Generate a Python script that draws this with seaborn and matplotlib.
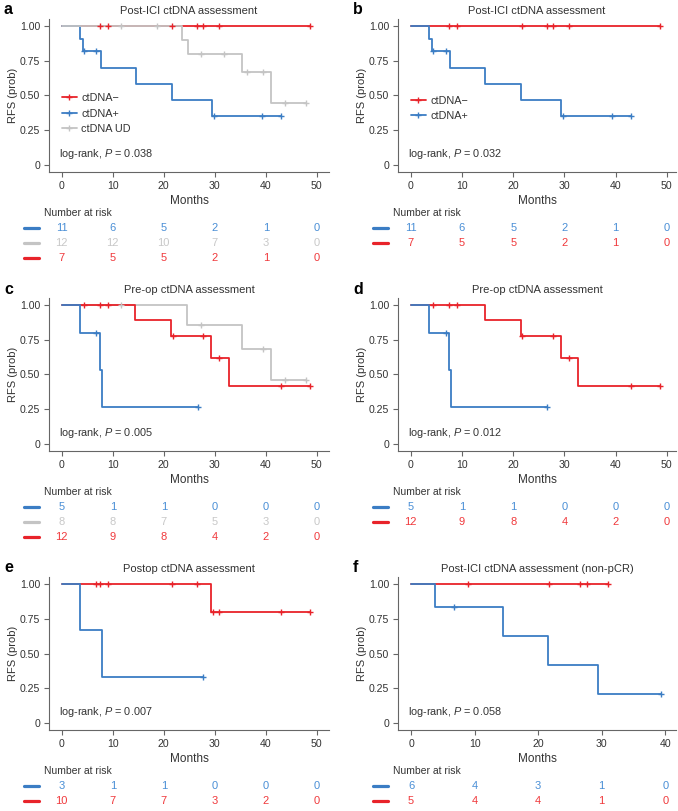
import numpy as np
import pandas as pd
import matplotlib
matplotlib.use("Agg")
import matplotlib.pyplot as plt
import seaborn as sns
from matplotlib.lines import Line2D
from matplotlib import transforms

sns.set_theme(style="ticks")
plt.rcParams['font.family'] = ['Liberation Sans', 'DejaVu Sans']
plt.rcParams['mathtext.fontset'] = 'custom'
plt.rcParams['mathtext.rm'] = 'Liberation Sans'
plt.rcParams['mathtext.it'] = 'Liberation Sans:italic'

# ---------------- data ----------------
# Post-ICI (panels a, b)
post_neg_t = [0, 48.7]
post_neg_s = [1.0, 1.0]
post_neg_cens = [7.5, 9.0, 21.7, 26.6, 27.7, 30.9, 48.7]
post_pos_t = [0, 3.6, 4.1, 7.6, 14.5, 21.6, 29.4, 43.0]
post_pos_s = [1.0, 0.909, 0.818, 0.701, 0.584, 0.467, 0.351, 0.351]
post_pos_cens = [4.4, 6.8, 29.8, 39.3, 43.0]
post_ud_t = [0, 23.5, 24.7, 35.4, 41.0, 47.9]
post_ud_s = [1.0, 0.9, 0.8, 0.667, 0.444, 0.444]
post_ud_cens = [11.6, 18.7, 27.4, 31.8, 36.3, 39.4, 43.7, 47.9]

# Pre-op (panels c, d)
pre_pos_t = [0, 3.6, 7.5, 7.8, 26.7]
pre_pos_s = [1.0, 0.8, 0.533, 0.267, 0.267]
pre_pos_cens = [6.8, 26.7]
pre_neg_t = [0, 14.4, 21.5, 29.3, 32.7, 48.7]
pre_neg_s = [1.0, 0.889, 0.778, 0.622, 0.415, 0.415]
pre_neg_cens = [4.4, 7.5, 9.0, 21.8, 27.7, 30.9, 43.0, 48.7]
pre_ud_t = [0, 24.6, 35.4, 41.0, 47.9]
pre_ud_s = [1.0, 0.857, 0.686, 0.457, 0.457]
pre_ud_cens = [11.6, 27.4, 39.4, 43.7, 47.9]

# Postop (panel e)
postop_pos_t = [0, 3.6, 7.8, 27.6]
postop_pos_s = [1.0, 0.667, 0.333, 0.333]
postop_pos_cens = [27.6]
postop_neg_t = [0, 29.3, 48.6]
postop_neg_s = [1.0, 0.8, 0.8]
postop_neg_cens = [6.8, 7.5, 9.0, 21.7, 26.6, 29.7, 30.9, 43.0, 48.6]

# Post-ICI non-pCR (panel f)
np_pos_t = [0, 3.7, 14.5, 21.6, 29.4, 39.3]
np_pos_s = [1.0, 0.833, 0.625, 0.417, 0.208, 0.208]
np_pos_cens = [6.8, 39.3]
np_neg_t = [0, 31.0]
np_neg_s = [1.0, 1.0]
np_neg_cens = [9.0, 21.7, 26.6, 27.7, 31.0]

# Number at risk
risk_ticks50 = [0, 10, 20, 30, 40, 50]
risk_ticks40 = [0, 10, 20, 30, 40]
risk_a_pos = [11, 6, 5, 2, 1, 0]
risk_a_ud = [12, 12, 10, 7, 3, 0]
risk_a_neg = [7, 5, 5, 2, 1, 0]
risk_c_pos = [5, 1, 1, 0, 0, 0]
risk_c_ud = [8, 8, 7, 5, 3, 0]
risk_c_neg = [12, 9, 8, 4, 2, 0]
risk_e_pos = [3, 1, 1, 0, 0, 0]
risk_e_neg = [10, 7, 7, 3, 2, 0]
risk_f_pos = [6, 4, 3, 1, 0]
risk_f_neg = [5, 4, 4, 1, 0]

pvals = {'a': '0.038', 'b': '0.032', 'c': '0.005', 'd': '0.012', 'e': '0.007', 'f': '0.058'}
titles = {'a': 'Post-ICI ctDNA assessment', 'b': 'Post-ICI ctDNA assessment',
          'c': 'Pre-op ctDNA assessment', 'd': 'Pre-op ctDNA assessment',
          'e': 'Postop ctDNA assessment', 'f': 'Post-ICI ctDNA assessment (non-pCR)'}

# ---------------- style ----------------
RED = '#e8232a'
BLUE = '#3b7dc4'
GRAY = '#c4c4c4'
RED_T = '#f0393c'
BLUE_T = '#4a8fd6'
GRAY_T = '#c8c8c8'
SPINE = '#666666'
TXT = '#333333'

W, H = 678, 811
fig = plt.figure(figsize=(W / 100, H / 100), dpi=100)


def px_axes(left, top, right, bottom):
    return fig.add_axes([left / W, 1 - bottom / H, (right - left) / W, (bottom - top) / H])


def surv_at(t, s, x):
    idx = np.searchsorted(np.asarray(t), x, side='right') - 1
    return np.asarray(s)[np.clip(idx, 0, len(s) - 1)]


def draw_curve(ax, t, s, cens, color, label):
    df = pd.DataFrame({'t': t, 's': s})
    sns.lineplot(data=df, x='t', y='s', ax=ax, color=color, lw=1.3,
                 drawstyle='steps-post', estimator=None, sort=False, legend=False)
    cdf = pd.DataFrame({'t': cens, 's': surv_at(t, s, cens)})
    sns.scatterplot(data=cdf, x='t', y='s', ax=ax, color=color, marker='+',
                    s=22, linewidth=1.0, legend=False, zorder=4)
    return Line2D([0], [0], color=color, lw=1.3, marker='+', markersize=5,
                  markeredgewidth=1.0, label=label)


def panel(letter, left, right, top, bottom, curves, xmax, xlim, risk, ticks,
          legend_pos=None):
    ax = px_axes(left, top, right, bottom)
    handles = []
    for (t, s, c, col, lab) in curves:
        handles.append(draw_curve(ax, t, s, c, col, lab))
    ax.set_xlim(*xlim)
    ax.set_ylim(-0.05, 1.05)
    ax.set_xticks(ticks)
    ax.set_xticklabels([str(v) for v in ticks])
    ax.set_yticks([0, 0.25, 0.5, 0.75, 1.0])
    ax.set_yticklabels(['0', '0.25', '0.50', '0.75', '1.00'])
    for sp in ['top', 'right']:
        ax.spines[sp].set_visible(False)
    for sp in ['left', 'bottom']:
        ax.spines[sp].set_color(SPINE)
        ax.spines[sp].set_linewidth(0.8)
    ax.tick_params(axis='both', labelsize=7.6, colors=SPINE, labelcolor=TXT,
                   length=3.5, width=0.8, pad=3)
    ax.set_xlabel('Months', fontsize=8.5, color=TXT, labelpad=3)
    ax.set_ylabel('RFS (prob)', fontsize=8, color=TXT, labelpad=1.5)
    ax.set_title(titles[letter], fontsize=8, color=TXT, pad=3.5)
    ax.text(0.035, 0.115, r'log-rank, $\it{P}$ = ' + pvals[letter], transform=ax.transAxes,
            fontsize=7.8, color=TXT, va='center', ha='left')
    fig.text((left - 45) / W, 1 - (top - 9) / H, letter, fontsize=11.5, fontweight='bold',
             va='center', ha='left', color='black')
    if legend_pos is not None:
        ax.legend(handles=handles, loc='upper left', bbox_to_anchor=legend_pos,
                  frameon=False, fontsize=7.8, handlelength=1.4, handletextpad=0.4,
                  labelspacing=0.5, borderpad=0, borderaxespad=0, labelcolor=TXT)
    # risk table
    trans = transforms.blended_transform_factory(ax.transData, fig.transFigure)
    y0 = bottom + 41
    fig.text((left - 5) / W, 1 - y0 / H, 'Number at risk', fontsize=7.5, color=TXT,
             va='center', ha='left')
    for i, (vals, lc, tc) in enumerate(risk):
        yy = 1 - (y0 + 15 * (i + 1)) / H
        fig.add_artist(Line2D([(left - 25) / W, (left - 10) / W], [yy, yy],
                              color=lc, lw=2.3, transform=fig.transFigure))
        for xv, v in zip(ticks, vals):
            fig.text(xv, yy, str(v), transform=trans, fontsize=8, color=tc,
                     ha='center', va='center')
    return ax


# a
panel('a', 49, 329, 19, 172,
      [(post_neg_t, post_neg_s, post_neg_cens, RED, 'ctDNA\u2212'),
       (post_pos_t, post_pos_s, post_pos_cens, BLUE, 'ctDNA+'),
       (post_ud_t, post_ud_s, post_ud_cens, GRAY, 'ctDNA UD')],
      50, (-2.5, 52.4),
      [(risk_a_pos, BLUE, BLUE_T), (risk_a_ud, GRAY, GRAY_T), (risk_a_neg, RED, RED_T)],
      risk_ticks50, legend_pos=(0.045, 0.515))
# b
panel('b', 398, 676, 19, 172,
      [(post_neg_t, post_neg_s, post_neg_cens, RED, 'ctDNA\u2212'),
       (post_pos_t, post_pos_s, post_pos_cens, BLUE, 'ctDNA+')],
      50, (-2.5, 51.8),
      [(risk_a_pos, BLUE, BLUE_T), (risk_a_neg, RED, RED_T)],
      risk_ticks50, legend_pos=(0.045, 0.5))
# c
panel('c', 49, 329, 298, 451,
      [(pre_ud_t, pre_ud_s, pre_ud_cens, GRAY, 'ctDNA UD'),
       (pre_neg_t, pre_neg_s, pre_neg_cens, RED, 'ctDNA\u2212'),
       (pre_pos_t, pre_pos_s, pre_pos_cens, BLUE, 'ctDNA+')],
      50, (-2.5, 52.4),
      [(risk_c_pos, BLUE, BLUE_T), (risk_c_ud, GRAY, GRAY_T), (risk_c_neg, RED, RED_T)],
      risk_ticks50)
# d
panel('d', 398, 676, 298, 451,
      [(pre_neg_t, pre_neg_s, pre_neg_cens, RED, 'ctDNA\u2212'),
       (pre_pos_t, pre_pos_s, pre_pos_cens, BLUE, 'ctDNA+')],
      50, (-2.5, 51.8),
      [(risk_c_pos, BLUE, BLUE_T), (risk_c_neg, RED, RED_T)],
      risk_ticks50)
# e
panel('e', 49, 329, 577, 730,
      [(postop_neg_t, postop_neg_s, postop_neg_cens, RED, 'ctDNA\u2212'),
       (postop_pos_t, postop_pos_s, postop_pos_cens, BLUE, 'ctDNA+')],
      50, (-2.5, 52.4),
      [(risk_e_pos, BLUE, BLUE_T), (risk_e_neg, RED, RED_T)],
      risk_ticks50)
# f
panel('f', 398, 676, 577, 730,
      [(np_neg_t, np_neg_s, np_neg_cens, RED, 'ctDNA\u2212'),
       (np_pos_t, np_pos_s, np_pos_cens, BLUE, 'ctDNA+')],
      40, (-2.05, 41.7),
      [(risk_f_pos, BLUE, BLUE_T), (risk_f_neg, RED, RED_T)],
      risk_ticks40)

fig.savefig('out.png', dpi=100)
